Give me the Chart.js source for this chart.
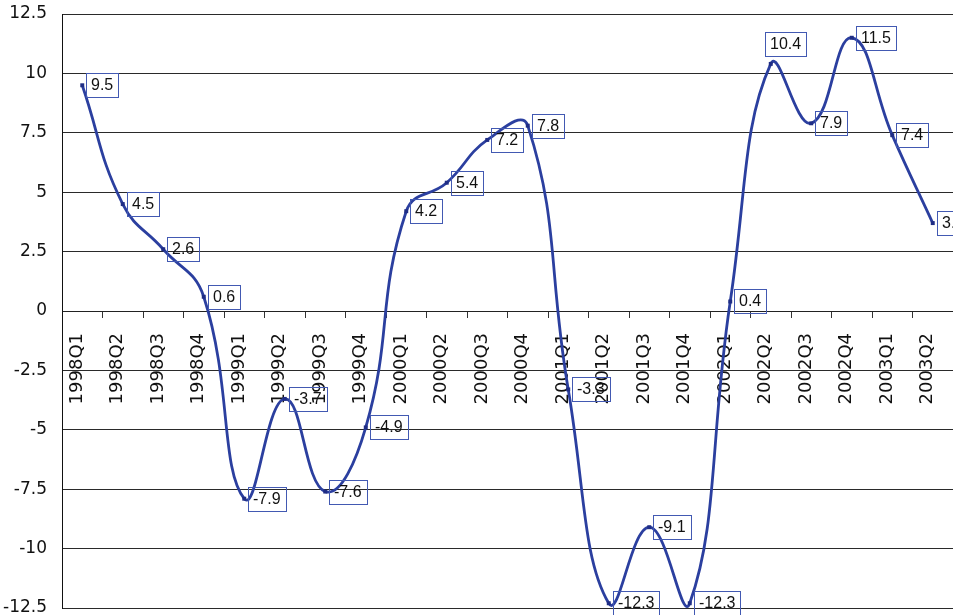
<!DOCTYPE html>
<html>
<head>
<meta charset="utf-8">
<script src="https://cdn.jsdelivr.net/npm/chart.js@4.4.1/dist/chart.umd.min.js"></script>
<style>
  html, body { margin: 0; padding: 0; overflow: hidden; background: #fff; }
  #wrap { width: 957px; height: 615px; position: relative; }
</style>
</head>
<body>
<div id="wrap"><canvas id="growthChart"></canvas></div>
<script>
// Quarterly growth rate, 1998Q1 - 2003Q2
const quarters = [
  '1998Q1', '1998Q2', '1998Q3', '1998Q4',
  '1999Q1', '1999Q2', '1999Q3', '1999Q4',
  '2000Q1', '2000Q2', '2000Q3', '2000Q4',
  '2001Q1', '2001Q2', '2001Q3', '2001Q4',
  '2002Q1', '2002Q2', '2002Q3', '2002Q4',
  '2003Q1', '2003Q2'
];
const growth = [
  9.5, 4.5, 2.6, 0.6,
  -7.9, -3.7, -7.6, -4.9,
  4.2, 5.4, 7.2, 7.8,
  -3.3, -12.3, -9.1, -12.3,
  0.4, 10.4, 7.9, 11.5,
  7.4, 3.7
];
const yTickValues = [12.5, 10, 7.5, 5, 2.5, 0, -2.5, -5, -7.5, -10, -12.5];

const AXIS_FONT = 'DejaVu Sans';
const LABEL_FONT = 'Liberation Sans';

// Boxed value labels next to each point
const valueBoxes = {
  id: 'valueBoxes',
  afterDatasetsDraw(chart, args, opts) {
    const ctx = chart.ctx;
    const meta = chart.getDatasetMeta(0);
    const values = chart.data.datasets[0].data;
    ctx.save();
    ctx.font = opts.font;
    ctx.textBaseline = 'middle';
    ctx.textAlign = 'left';
    meta.data.forEach((pt, i) => {
      const text = values[i].toFixed(1);
      const w = Math.round(ctx.measureText(text).width + 2 * opts.padX);
      const h = opts.height;
      let x, y;
      if (opts.above.includes(i)) {
        x = pt.x - 6;
        y = pt.y - 8 - h;
      } else {
        x = pt.x + opts.gap;
        y = pt.y - h / 2;
      }
      x = Math.round(x);
      y = Math.round(y);
      ctx.strokeStyle = opts.borderColor;
      ctx.lineWidth = 1;
      ctx.strokeRect(x + 0.5, y + 0.5, w, h);
      ctx.fillStyle = opts.color;
      ctx.fillText(text, x + opts.padX, y + h / 2 + 1);
    });
    ctx.restore();
  }
};

new Chart(document.getElementById('growthChart'), {
  type: 'line',
  data: {
    labels: quarters,
    datasets: [{
      data: growth,
      borderColor: '#2b3f9f',
      borderWidth: 2.8,
      tension: 0.45,
      fill: false,
      clip: 4,
      pointStyle: 'rect',
      pointRadius: 2.8,
      pointBackgroundColor: '#1f2d85',
      pointBorderColor: '#1f2d85',
      pointBorderWidth: 0
    }]
  },
  options: {
    responsive: true,
    maintainAspectRatio: false,
    animation: false,
    devicePixelRatio: 1,
    layout: { padding: { top: 14, right: 1, bottom: 7, left: 0 } },
    elements: { line: { capBezierPoints: false } },
    plugins: {
      legend: { display: false },
      tooltip: { enabled: false },
      valueBoxes: {
        font: '16px "' + LABEL_FONT + '"',
        color: '#111',
        borderColor: '#4259b2',
        padX: 5,
        height: 24,
        gap: 4,
        above: [17]
      }
    },
    scales: {
      x: {
        type: 'category',
        offset: true,
        position: { y: 0 },
        grid: {
          drawOnChartArea: false,
          drawTicks: true,
          tickLength: 6,
          offset: true,
          color: '#333'
        },
        border: { display: true, color: '#222', width: 1 },
        ticks: {
          autoSkip: false,
          minRotation: 90,
          maxRotation: 90,
          padding: 16,
          labelOffset: -5,
          color: '#111',
          font: { family: AXIS_FONT, size: 18 }
        },
        afterFit(scale) {
          scale.height = 0;
          scale.paddingLeft = 0;
          scale.paddingRight = 0;
          scale.paddingTop = 0;
          scale.paddingBottom = 0;
        }
      },
      y: {
        min: -12.5,
        max: 12.5,
        afterBuildTicks(scale) {
          scale.ticks = yTickValues.map(v => ({ value: v }));
        },
        grid: { color: '#2a2a2a', lineWidth: 1, drawTicks: false },
        border: { color: '#111', width: 1 },
        ticks: {
          padding: 15,
          color: '#111',
          font: { family: AXIS_FONT, size: 17 },
          callback: v => String(v)
        },
        afterFit(scale) {
          scale.width = 62;
          scale.paddingTop = 0;
          scale.paddingBottom = 0;
        }
      }
    }
  },
  plugins: [valueBoxes]
});
</script>
</body>
</html>
